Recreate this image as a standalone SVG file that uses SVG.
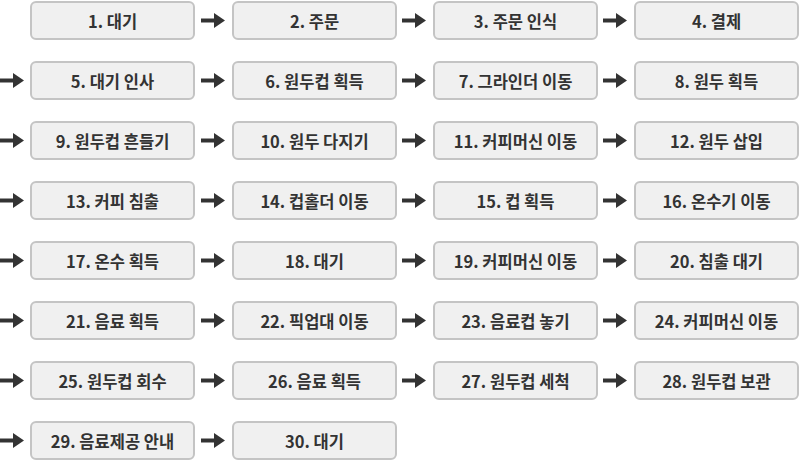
<svg xmlns="http://www.w3.org/2000/svg" width="800" height="461" viewBox="0 0 800 461">
<defs>
<style>
.b rect{fill:#f0f0f0;stroke:#c4c4c4;stroke-width:2}
.b text{font-family:"Noto Sans CJK KR","Noto Sans",sans-serif;font-weight:700;font-size:16.5px;fill:#333;text-anchor:middle;dominant-baseline:central}
</style>
<g id="arrow"><line x1="0" y1="0" x2="14" y2="0" stroke="#333" stroke-width="4"/><polygon points="13,-7.5 24,0 13,7.5" fill="#333"/></g>
</defs>
<rect width="800" height="461" fill="#fff"/>
<g id="connectors">
<use href="#arrow" x="201" y="20.5"/><use href="#arrow" x="402" y="20.5"/><use href="#arrow" x="603" y="20.5"/>
<use href="#arrow" x="0" y="80.5"/><use href="#arrow" x="201" y="80.5"/><use href="#arrow" x="402" y="80.5"/><use href="#arrow" x="603" y="80.5"/>
<use href="#arrow" x="0" y="140.5"/><use href="#arrow" x="201" y="140.5"/><use href="#arrow" x="402" y="140.5"/><use href="#arrow" x="603" y="140.5"/>
<use href="#arrow" x="0" y="200.5"/><use href="#arrow" x="201" y="200.5"/><use href="#arrow" x="402" y="200.5"/><use href="#arrow" x="603" y="200.5"/>
<use href="#arrow" x="0" y="260.5"/><use href="#arrow" x="201" y="260.5"/><use href="#arrow" x="402" y="260.5"/><use href="#arrow" x="603" y="260.5"/>
<use href="#arrow" x="0" y="320.5"/><use href="#arrow" x="201" y="320.5"/><use href="#arrow" x="402" y="320.5"/><use href="#arrow" x="603" y="320.5"/>
<use href="#arrow" x="0" y="380.5"/><use href="#arrow" x="201" y="380.5"/><use href="#arrow" x="402" y="380.5"/><use href="#arrow" x="603" y="380.5"/>
<use href="#arrow" x="0" y="440.5"/><use href="#arrow" x="201" y="440.5"/>
</g>
<g id="n1" class="b"><rect x="31" y="2" width="163" height="37" rx="5"/><text x="112.5" y="20.5">1. 대기</text></g>
<g id="n2" class="b"><rect x="233" y="2" width="163" height="37" rx="5"/><text x="314.5" y="20.5">2. 주문</text></g>
<g id="n3" class="b"><rect x="434" y="2" width="163" height="37" rx="5"/><text x="515.5" y="20.5">3. 주문 인식</text></g>
<g id="n4" class="b"><rect x="635" y="2" width="163" height="37" rx="5"/><text x="716.5" y="20.5">4. 결제</text></g>
<g id="n5" class="b"><rect x="31" y="62" width="163" height="37" rx="5"/><text x="112.5" y="80.5">5. 대기 인사</text></g>
<g id="n6" class="b"><rect x="233" y="62" width="163" height="37" rx="5"/><text x="314.5" y="80.5">6. 원두컵 획득</text></g>
<g id="n7" class="b"><rect x="434" y="62" width="163" height="37" rx="5"/><text x="515.5" y="80.5">7. 그라인더 이동</text></g>
<g id="n8" class="b"><rect x="635" y="62" width="163" height="37" rx="5"/><text x="716.5" y="80.5">8. 원두 획득</text></g>
<g id="n9" class="b"><rect x="31" y="122" width="163" height="37" rx="5"/><text x="112.5" y="140.5">9. 원두컵 흔들기</text></g>
<g id="n10" class="b"><rect x="233" y="122" width="163" height="37" rx="5"/><text x="314.5" y="140.5">10. 원두 다지기</text></g>
<g id="n11" class="b"><rect x="434" y="122" width="163" height="37" rx="5"/><text x="515.5" y="140.5">11. 커피머신 이동</text></g>
<g id="n12" class="b"><rect x="635" y="122" width="163" height="37" rx="5"/><text x="716.5" y="140.5">12. 원두 삽입</text></g>
<g id="n13" class="b"><rect x="31" y="182" width="163" height="37" rx="5"/><text x="112.5" y="200.5">13. 커피 침출</text></g>
<g id="n14" class="b"><rect x="233" y="182" width="163" height="37" rx="5"/><text x="314.5" y="200.5">14. 컵홀더 이동</text></g>
<g id="n15" class="b"><rect x="434" y="182" width="163" height="37" rx="5"/><text x="515.5" y="200.5">15. 컵 획득</text></g>
<g id="n16" class="b"><rect x="635" y="182" width="163" height="37" rx="5"/><text x="716.5" y="200.5">16. 온수기 이동</text></g>
<g id="n17" class="b"><rect x="31" y="242" width="163" height="37" rx="5"/><text x="112.5" y="260.5">17. 온수 획득</text></g>
<g id="n18" class="b"><rect x="233" y="242" width="163" height="37" rx="5"/><text x="314.5" y="260.5">18. 대기</text></g>
<g id="n19" class="b"><rect x="434" y="242" width="163" height="37" rx="5"/><text x="515.5" y="260.5">19. 커피머신 이동</text></g>
<g id="n20" class="b"><rect x="635" y="242" width="163" height="37" rx="5"/><text x="716.5" y="260.5">20. 침출 대기</text></g>
<g id="n21" class="b"><rect x="31" y="302" width="163" height="37" rx="5"/><text x="112.5" y="320.5">21. 음료 획득</text></g>
<g id="n22" class="b"><rect x="233" y="302" width="163" height="37" rx="5"/><text x="314.5" y="320.5">22. 픽업대 이동</text></g>
<g id="n23" class="b"><rect x="434" y="302" width="163" height="37" rx="5"/><text x="515.5" y="320.5">23. 음료컵 놓기</text></g>
<g id="n24" class="b"><rect x="635" y="302" width="163" height="37" rx="5"/><text x="716.5" y="320.5">24. 커피머신 이동</text></g>
<g id="n25" class="b"><rect x="31" y="362" width="163" height="37" rx="5"/><text x="112.5" y="380.5">25. 원두컵 회수</text></g>
<g id="n26" class="b"><rect x="233" y="362" width="163" height="37" rx="5"/><text x="314.5" y="380.5">26. 음료 획득</text></g>
<g id="n27" class="b"><rect x="434" y="362" width="163" height="37" rx="5"/><text x="515.5" y="380.5">27. 원두컵 세척</text></g>
<g id="n28" class="b"><rect x="635" y="362" width="163" height="37" rx="5"/><text x="716.5" y="380.5">28. 원두컵 보관</text></g>
<g id="n29" class="b"><rect x="31" y="422" width="163" height="37" rx="5"/><text x="112.5" y="440.5">29. 음료제공 안내</text></g>
<g id="n30" class="b"><rect x="233" y="422" width="163" height="37" rx="5"/><text x="314.5" y="440.5">30. 대기</text></g>
</svg>
